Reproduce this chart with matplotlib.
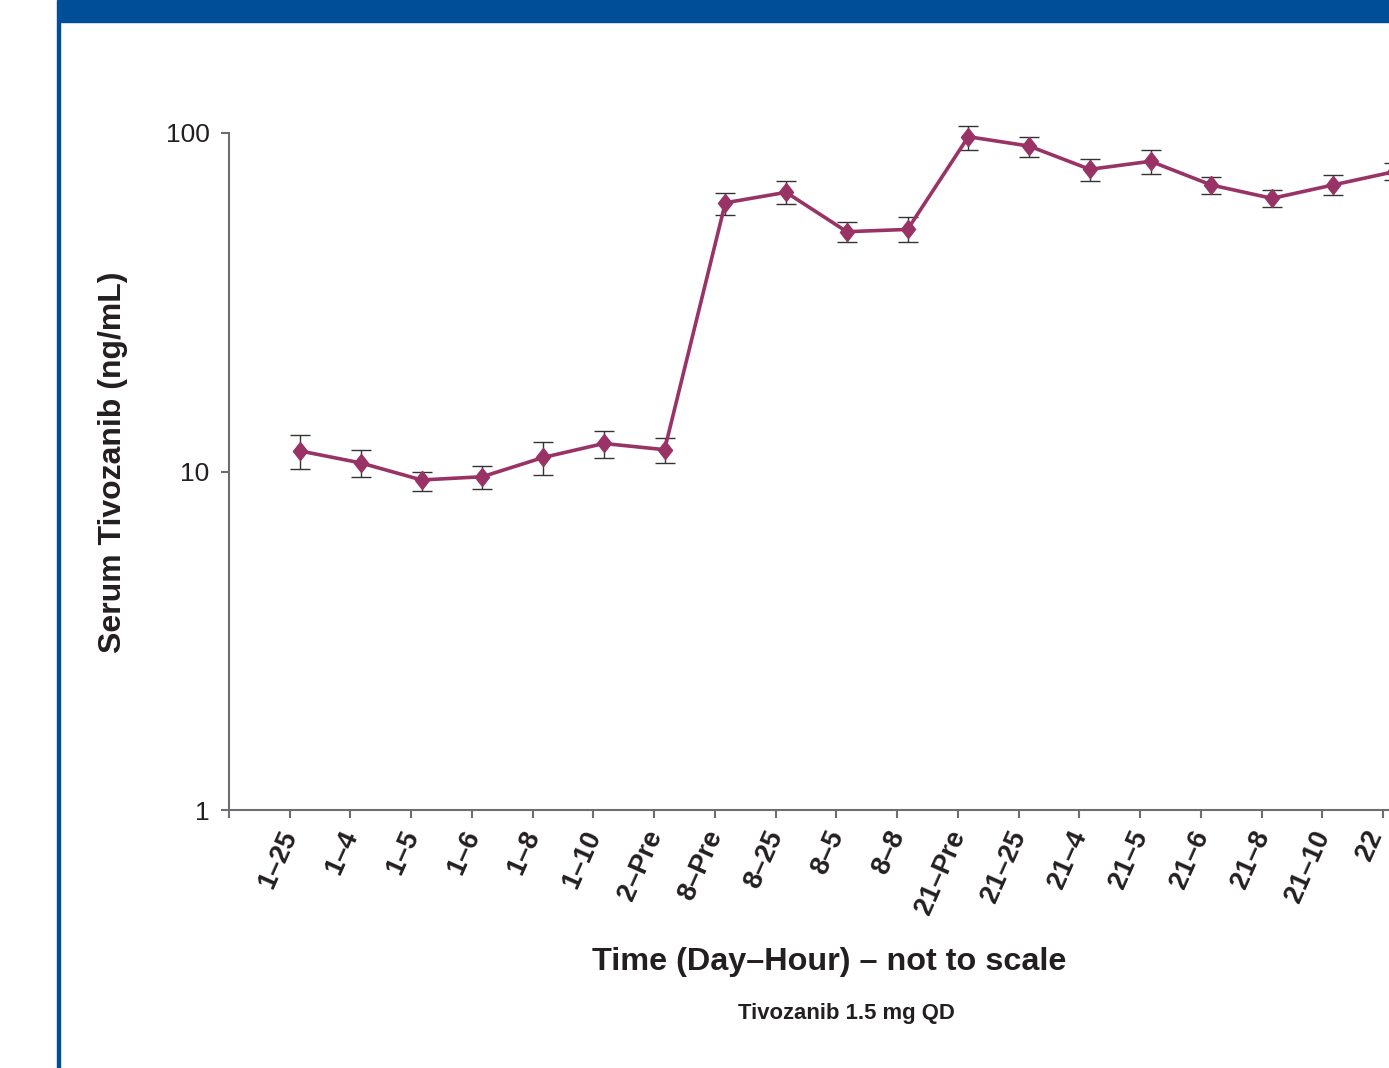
import matplotlib
matplotlib.use("Agg")
import matplotlib.pyplot as plt
from matplotlib.patches import Rectangle

plt.rcParams['font.family'] = ['Liberation Sans', 'DejaVu Sans']

# Sampling times (Day–Hour) and mean serum concentrations with error limits
time_labels = ["1–25", "1–4", "1–5", "1–6", "1–8", "1–10", "2–Pre", "8–Pre",
               "8–25", "8–5", "8–8", "21–Pre", "21–25", "21–4", "21–5",
               "21–6", "21–8", "21–10", "22"]
conc_mean = [11.5, 10.6, 9.44, 9.65, 11.0, 12.1, 11.6, 62.2, 66.8, 51.1, 51.9,
             97.5, 91.5, 78.1, 82.5, 70.2, 64.1, 70.2, 76.8]
conc_upper = [12.8, 11.6, 10.0, 10.4, 12.2, 13.2, 12.6, 66.6, 72.0, 54.6, 56.3,
              105.0, 97.5, 84.0, 88.9, 74.3, 67.9, 75.3, 81.3]
conc_lower = [10.2, 9.63, 8.76, 8.88, 9.77, 10.96, 10.6, 57.1, 61.7, 47.5, 47.5,
              89.3, 85.1, 72.3, 75.7, 66.0, 60.6, 65.4, 72.5]
y_ticks = [1, 10, 100]
y_tick_labels = ["1", "10", "100"]

BLUE = "#004E98"
LINE = "#993366"
TEXT = "#231F20"
SPINE = "#6D6E71"

W, H = 1389, 1068
fig = plt.figure(figsize=(W / 100, H / 100), dpi=100)

# Header band and left rule
fig.patches.append(Rectangle((58 / W, 1 - 22 / H), 1 - 58 / W, 22 / H,
                             transform=fig.transFigure, color=BLUE, zorder=0))
fig.patches.append(Rectangle((57 / W, 0), 3 / W, 1,
                             transform=fig.transFigure, color=BLUE, zorder=0))

# Axes geometry: category spacing ~60.75 px, y-axis one step left of first tick
step = 60.75
x_left, x_right = -1.0, 18.6
ax_left = 229 / W
ax_width = (x_right - x_left) * step / W
ax_bottom = 1 - 810 / H
ax_height = (810 - 133) / H
ax = fig.add_axes([ax_left, ax_bottom, ax_width, ax_height])

n = len(time_labels)
ticks = list(range(n))
xs = [t + 0.17 for t in ticks]
yerr = [[m - lo for m, lo in zip(conc_mean, conc_lower)],
        [hi - m for m, hi in zip(conc_mean, conc_upper)]]

ax.errorbar(xs, conc_mean, yerr=yerr, fmt='none', ecolor="#333333",
            elinewidth=1.0, capsize=7, capthick=1.0, zorder=2, clip_on=False)
diamond = [(0, 1), (0.78, 0), (0, -1), (-0.78, 0), (0, 1)]
ax.plot(xs, conc_mean, color=LINE, lw=2.6, marker=diamond, ms=13,
        markerfacecolor=LINE, markeredgecolor=LINE, zorder=3, clip_on=False)

ax.set_yscale('log')
ax.set_ylim(1, 100)
ax.set_xlim(x_left, x_right)
ax.set_yticks(y_ticks)
ax.set_yticklabels(y_tick_labels)
ax.minorticks_off()
ax.set_xticks([-1] + ticks)
ax.set_xticklabels([])

# Rotated time labels hanging below each tick (last one nudged to stay in frame)
for t, lab in zip(ticks, time_labels):
    dx = 1 if t < n - 1 else -7
    ax.annotate(lab, xy=(t, 0), xycoords=('data', 'axes fraction'),
                xytext=(dx, -22), textcoords='offset pixels',
                rotation=66, rotation_mode='anchor', ha='right', va='center',
                fontsize=19.5, fontweight='bold', color=TEXT,
                annotation_clip=False)

for side in ("top", "right"):
    ax.spines[side].set_visible(False)
for side in ("left", "bottom"):
    ax.spines[side].set_color(SPINE)
    ax.spines[side].set_linewidth(1.5)
ax.tick_params(axis='both', direction='out', length=6, width=1.5,
               color=SPINE)
ax.tick_params(axis='y', labelsize=19, labelcolor=TEXT, pad=8)

fig.text(113 / W, 1 - 462 / H, "Serum Tivozanib (ng/mL)", rotation=90,
         ha='center', va='center', fontsize=23, fontweight='bold', color=TEXT)
fig.text(829 / W, 1 - 962 / H, "Time (Day–Hour) – not to scale",
         ha='center', va='center', fontsize=23.3, fontweight='bold', color=TEXT)
fig.text(846 / W, 1 - 1014 / H, "Tivozanib 1.5 mg QD",
         ha='center', va='center', fontsize=15.9, fontweight='bold', color=TEXT)

fig.savefig("out.png", dpi=100)
